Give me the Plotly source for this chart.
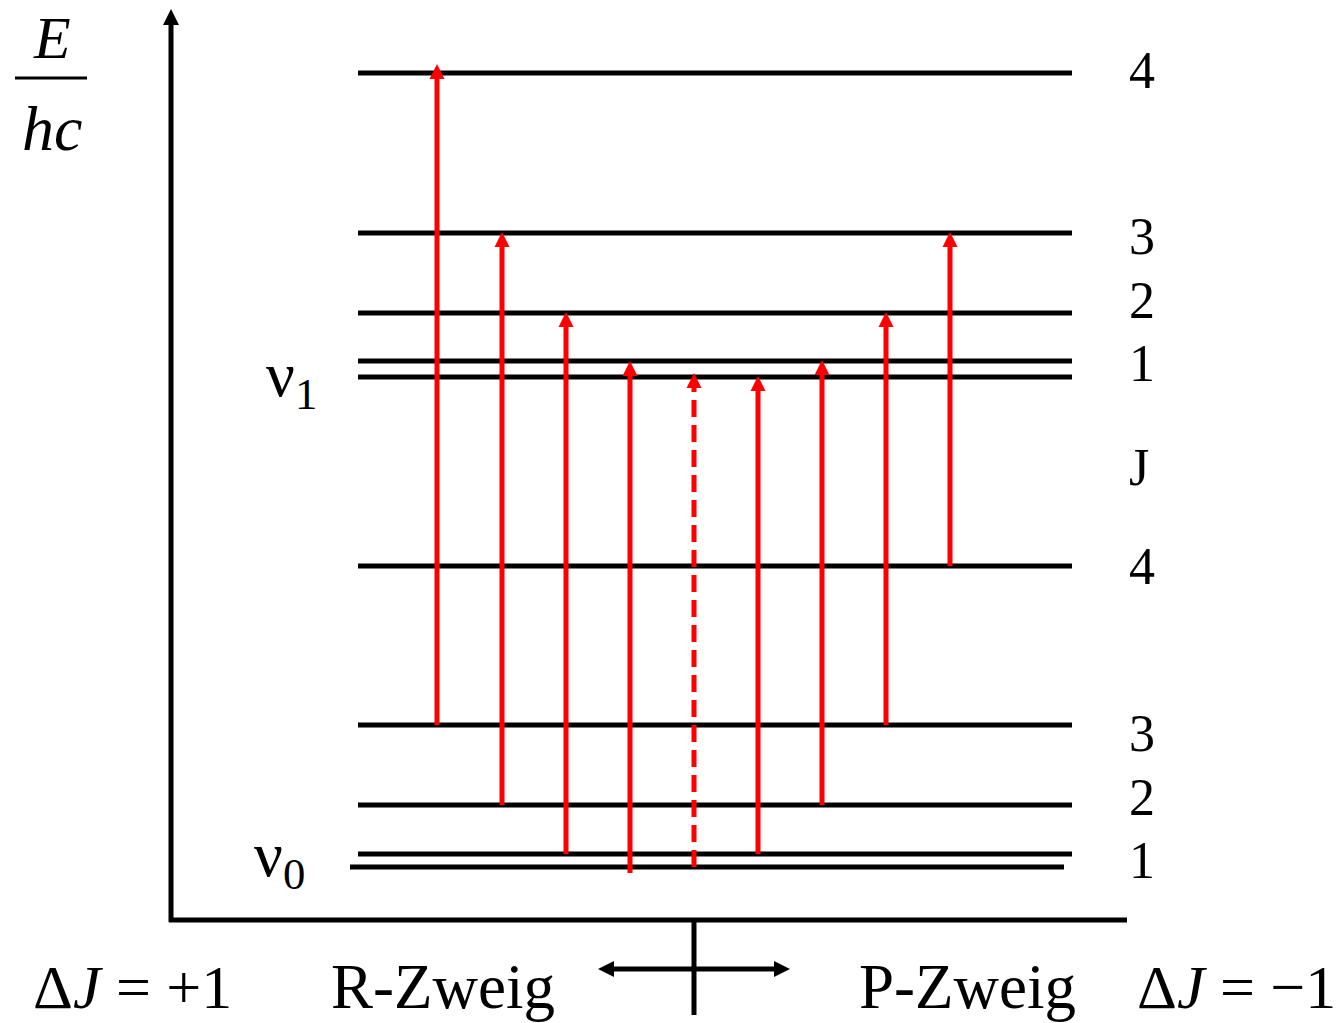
import plotly.graph_objects as go

# ---- data (diagram units: y = energy position, x = horizontal position) ----
J_values = [0, 1, 2, 3, 4]
E_lower = [156, 169, 218, 298, 457]      # v0 rotational levels J=0..4
E_upper = [646, 662, 710, 790, 950]      # v1 rotational levels J=0..4
level_x_start = [350, 358, 358, 358, 358]   # lower J=0 line shifted left
level_x_end = [1064, 1072, 1072, 1072, 1072]
upper_x_start, upper_x_end = 358, 1072

# transitions: (x position, J lower, J upper)
trans_x = [437, 502, 566, 630, 694, 758, 822, 886, 950]
trans_J_from = [3, 2, 1, 0, 0, 1, 2, 3, 4]
trans_J_to = [4, 3, 2, 1, 0, 0, 1, 2, 3]
trans_forbidden = [False, False, False, False, True, False, False, False, False]
trans_tip_offset = [9, 1, 1, 0, 4, 1, 1, 1, 1]

level_labels = ["1", "2", "3", "4"]
upper_label_y = [660, 723, 787, 953]
lower_label_y = [163, 226, 290, 457]

RED = "#ff0000"
BLACK = "#000000"
FONT = "Liberation Serif"
LW = 5

fig = go.Figure()

# energy levels
lx, ly = [], []
for j in J_values:
    lx += [level_x_start[j], level_x_end[j], None]
    ly += [E_lower[j], E_lower[j], None]
    lx += [upper_x_start, upper_x_end, None]
    ly += [E_upper[j], E_upper[j], None]
fig.add_trace(go.Scatter(x=lx, y=ly, mode="lines", line=dict(color=BLACK, width=LW),
                         hoverinfo="skip", showlegend=False))

# transitions
head = 15
for x, jf, jt, fb, off in zip(trans_x, trans_J_from, trans_J_to, trans_forbidden, trans_tip_offset):
    y0 = E_lower[jf] - (6 if (jf == 0 and not fb) else 0)
    y1 = E_upper[jt] + off
    fig.add_trace(go.Scatter(x=[x, x], y=[y0, y1 - 10], mode="lines",
                             line=dict(color=RED, width=LW, dash="17px,8px" if fb else "solid"),
                             hoverinfo="skip", showlegend=False))
    fig.add_trace(go.Scatter(x=[x], y=[y1], mode="markers",
                             marker=dict(symbol="arrow-up", size=head, color=RED,
                                         line=dict(width=0)),
                             hoverinfo="skip", showlegend=False))

# axes (diagram frame)
fig.add_trace(go.Scatter(x=[171, 171], y=[101, 1004], mode="lines",
                         line=dict(color=BLACK, width=LW), hoverinfo="skip", showlegend=False))
fig.add_trace(go.Scatter(x=[171], y=[1014], mode="markers",
                         marker=dict(symbol="arrow-up", size=16, color=BLACK, line=dict(width=0)),
                         hoverinfo="skip", showlegend=False))
fig.add_trace(go.Scatter(x=[169, 1127], y=[103, 103], mode="lines",
                         line=dict(color=BLACK, width=LW), hoverinfo="skip", showlegend=False))
# branch separator + double arrow
fig.add_trace(go.Scatter(x=[694, 694], y=[103, 8], mode="lines",
                         line=dict(color=BLACK, width=LW), hoverinfo="skip", showlegend=False))
fig.add_trace(go.Scatter(x=[606, 782], y=[54, 54], mode="lines",
                         line=dict(color=BLACK, width=LW), hoverinfo="skip", showlegend=False))
fig.add_trace(go.Scatter(x=[598, 790], y=[54, 54], mode="markers",
                         marker=dict(symbol=["arrow-left", "arrow-right"], size=16, color=BLACK,
                                     line=dict(width=0)),
                         hoverinfo="skip", showlegend=False))

# fraction bar
fig.add_shape(type="line", x0=15, x1=87, y0=945, y1=945, xref="x", yref="y",
              line=dict(color=BLACK, width=3))

ann = []
def txt(x, y, s, size, **kw):
    ann.append(dict(x=x, y=y, text=s, showarrow=False, xref="x", yref="y",
                    font=dict(family=FONT, size=size, color=BLACK),
                    xanchor="center", yanchor="middle", **kw))

for lab, yy in zip(level_labels, upper_label_y):
    txt(1142, yy, lab, 52)
for lab, yy in zip(level_labels, lower_label_y):
    txt(1142, yy, lab, 52)
txt(1139, 556, "J", 52)

txt(52, 985, "<i>E</i>", 60)
txt(52, 895, "<i>hc</i>", 64)
txt(291, 644, "ν<sub>1</sub>", 64)
txt(279, 164, "ν<sub>0</sub>", 64)

txt(132, 36, "Δ<i>J</i> = +1", 62)
txt(443, 36, "R-Zweig", 63)
txt(967, 36, "P-Zweig", 63)
txt(1236, 36, "Δ<i>J</i> = −1", 62)

fig.update_layout(
    width=1343, height=1023,
    margin=dict(l=0, r=0, t=0, b=0),
    paper_bgcolor="white", plot_bgcolor="white",
    xaxis=dict(range=[0, 1343], visible=False, fixedrange=True),
    yaxis=dict(range=[0, 1023], visible=False, fixedrange=True),
    annotations=ann,
    showlegend=False,
)

fig.write_html("out.html")
